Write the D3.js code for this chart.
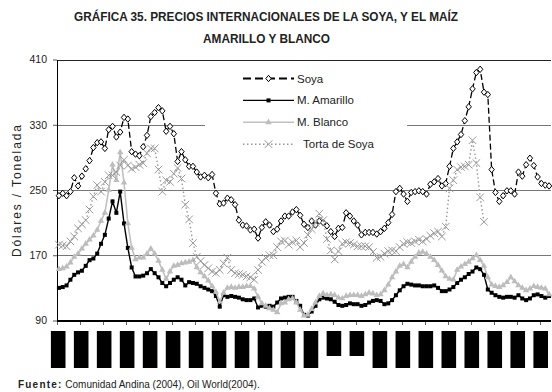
<!DOCTYPE html>
<html><head><meta charset="utf-8">
<script src="https://cdn.jsdelivr.net/npm/d3@7"></script>
<style>body{margin:0;background:#fff}</style>
</head><body>
<svg id="chart" width="552" height="392"></svg>
<script>
// Monthly prices, US$ per tonne
const soya = [
  243,246,243,248,265,255,267,276,286,302,
  308,309,301,324,328,315,321,339,337,297,
  294,292,303,317,340,345,351,347,322,328,
  319,285,297,287,279,279,272,266,268,265,
  269,246,233,234,240,238,232,213,207,206,
  201,202,191,204,211,207,199,202,212,218,
  218,223,226,219,208,204,212,207,212,210,
  206,199,193,203,204,222,218,212,207,195,
  198,198,198,196,199,203,210,220,248,252,
  245,236,247,248,249,248,245,257,260,264,
  255,258,279,301,309,318,335,352,374,394,
  398,370,367,275,247,236,243,249,249,245,
  272,267,281,289,280,266,258,256,255];
const amarillo = [
  130,131,133,140,146,149,151,157,164,166,
  172,184,195,215,236,222,248,209,179,155,
  144,144,145,148,153,148,143,136,132,136,
  140,143,140,133,137,136,135,132,130,128,
  126,120,107,121,119,120,119,118,116,115,
  115,117,106,108,107,108,107,112,117,118,
  119,119,114,108,97,96,101,108,116,118,
  117,116,113,109,108,109,111,110,110,108,
  109,112,114,115,114,110,111,115,121,127,
  132,135,134,133,133,132,132,132,133,130,
  126,126,128,131,136,140,143,147,150,155,
  153,146,128,124,121,119,118,119,119,118,
  121,117,115,117,121,122,120,118,120];
const blanco = [
  153,154,156,161,168,172,178,184,189,194,
  201,212,222,250,281,262,296,259,209,179,
  165,167,167,172,178,172,163,152,141,150,
  157,158,160,161,162,164,155,149,144,139,
  132,125,113,124,130,131,130,131,131,132,
  132,129,119,111,108,105,103,100,111,112,
  116,117,112,103,96,97,104,112,120,123,
  121,122,121,118,117,120,121,121,121,120,
  122,124,123,121,122,127,134,143,150,157,
  159,155,162,168,173,174,172,168,164,158,
  151,144,141,140,152,156,159,162,166,170,
  164,157,143,134,132,131,133,137,143,138,
  133,130,127,129,132,131,130,129,122];
const torta = [
  183,182,181,187,193,203,208,213,226,242,
  256,248,260,268,268,272,280,287,280,276,
  278,281,283,295,301,301,275,248,262,260,
  270,277,264,232,214,185,168,163,158,154,
  150,148,152,160,167,152,148,147,146,144,
  143,140,152,162,167,170,170,180,187,188,
  183,186,188,180,185,195,202,210,221,213,
  190,176,165,175,184,186,185,183,181,181,
  181,180,174,167,168,172,175,176,175,180,
  184,186,185,187,189,187,190,194,197,199,
  193,205,252,262,275,278,279,281,311,283,
  241,211];

const yTicks = [90, 170, 250, 330, 410];
const seriesNames = ["Soya", "M. Amarillo", "M. Blanco", "Torta de Soya"];
const titleLines = ["GRÁFICA 35. PRECIOS INTERNACIONALES DE LA SOYA, Y EL MAÍZ", "AMARILLO Y BLANCO"];
const yLabel = "Dólares / Tonelada";
const sourceBold = "Fuente:";
const sourceText = " Comunidad Andina (2004), Oil World(2004).";
const labelStep = 6;          // one period label every six months
const shortLabels = [12, 13]; // labels drawn with a shorter box

const svg = d3.select("#chart");
const nMonths = soya.length;
const plotL = 57, plotR = 551, plotT = 59.5, plotB = 320.5;
const x = d3.scaleLinear().domain([0, nMonths]).range([plotL, plotR]);
const y = d3.scaleLinear().domain([90, 410]).range([plotB, plotT]);
const cx = i => x(i + 0.5);

// title
const title = svg.append("g")
  .attr("font-family", "'Liberation Sans Narrow','Arial Narrow','Liberation Sans',Arial,sans-serif")
  .attr("font-weight", "bold").attr("font-size", 12.5).attr("fill", "#222")
  .attr("text-anchor", "middle");
title.append("text").attr("x", 266).attr("y", 21).text(titleLines[0])
  .attr("textLength", 384).attr("lengthAdjust", "spacingAndGlyphs");
title.append("text").attr("x", 266.5).attr("y", 43).text(titleLines[1])
  .attr("textLength", 127).attr("lengthAdjust", "spacingAndGlyphs");

// gridlines
svg.append("g").selectAll("line").data(yTicks.slice(1)).join("line")
  .attr("x1", plotL).attr("x2", plotR)
  .attr("y1", d => Math.round(y(d)) + 0.5).attr("y2", d => Math.round(y(d)) + 0.5)
  .attr("stroke", d => d === 410 ? "#222" : "#777").attr("stroke-width", 1);

// y axis
const yAxis = svg.append("g").attr("transform", `translate(${plotL},0)`)
  .call(d3.axisLeft(y).tickValues(yTicks).tickSizeInner(4).tickSizeOuter(0).tickPadding(6));
yAxis.select(".domain").attr("stroke", "#000");
yAxis.selectAll(".tick line").attr("stroke", "#555");
yAxis.selectAll("text").attr("font-family", "'Liberation Sans',Arial,sans-serif")
  .attr("font-size", 10.5).attr("fill", "#222");

svg.append("text")
  .attr("transform", "translate(21,191) rotate(-90)")
  .attr("text-anchor", "middle")
  .attr("font-family", "'Liberation Sans',Arial,sans-serif").attr("font-size", 12).attr("fill", "#222")
  .attr("textLength", 132).attr("lengthAdjust", "spacing")
  .text(yLabel);

// series
const seriesDefs = [
  {name: seriesNames[0], data: soya, stroke: "#000", width: 1.3, dash: "6,3"},
  {name: seriesNames[1], data: amarillo, stroke: "#000", width: 1.4, dash: null},
  {name: seriesNames[2], data: blanco, stroke: "#c0c0c0", width: 1.6, dash: null},
  {name: seriesNames[3], data: torta, stroke: "#999", width: 1.4, dash: "1.5,2.5"}
];

const line = d3.line().x((d, i) => cx(i)).y(d => y(d));

function marker(sel, k) {
  if (k === 0) {
    sel.append("path").attr("d", "M0,-3.2L2.7,0L0,3.2L-2.7,0Z")
      .attr("fill", "#fff").attr("stroke", "#000").attr("stroke-width", 1);
  } else if (k === 1) {
    sel.append("rect").attr("x", -2).attr("y", -2).attr("width", 4).attr("height", 4).attr("fill", "#000");
  } else if (k === 2) {
    sel.append("path").attr("d", d3.symbol(d3.symbolTriangle, 18)()).attr("fill", "#bdbdbd");
  } else {
    sel.append("path").attr("d", "M-3.8,-3.8L3.8,3.8M-3.8,3.8L3.8,-3.8")
      .attr("stroke", "#999").attr("stroke-width", 1).attr("fill", "none");
  }
}

seriesDefs.forEach((s, k) => {
  const g = svg.append("g");
  g.append("path").datum(s.data).attr("d", line)
    .attr("fill", "none").attr("stroke", s.stroke).attr("stroke-width", s.width)
    .attr("stroke-dasharray", s.dash);
  g.selectAll("g").data(s.data).join("g")
    .attr("transform", (d, i) => `translate(${cx(i)},${y(d)})`)
    .each(function () { marker(d3.select(this), k); });
});

// x axis
svg.append("line").attr("x1", plotL).attr("x2", plotR).attr("y1", plotB + 0.5).attr("y2", plotB + 0.5)
  .attr("stroke", "#000").attr("stroke-width", 2);
const tickIdx = d3.range(0, nMonths - 1, labelStep);
svg.append("g").selectAll("line").data(tickIdx).join("line")
  .attr("x1", d => Math.round(x(d)) + 0.5).attr("x2", d => Math.round(x(d)) + 0.5)
  .attr("y1", plotB + 1.5).attr("y2", plotB + 4.5).attr("stroke", "#666");
// period labels (masked boxes)
svg.append("g").selectAll("rect").data(tickIdx).join("rect")
  .attr("x", d => x(d) + 1.2 - 7.3).attr("width", 14.6)
  .attr("y", 331).attr("height", (d, i) => shortLabels.includes(i) ? 25 : 37)
  .attr("fill", "#000");

// legend
const lg = svg.append("g");
lg.append("rect").attr("x", 205).attr("y", 63).attr("width", 202).attr("height", 95).attr("fill", "#fff");
seriesDefs.forEach((s, k) => {
  const yy = 78.5 + k * 21.9;
  lg.append("line").attr("x1", 243).attr("x2", 294).attr("y1", yy).attr("y2", yy)
    .attr("stroke", s.stroke).attr("stroke-width", k === 0 ? 2 : s.width)
    .attr("stroke-dasharray", k === 0 ? "8,4" : s.dash);
  marker(lg.append("g").attr("transform", `translate(268.5,${yy})`), k);
  lg.append("text").attr("x", k === 3 ? 303 : 297).attr("y", yy + 4)
    .attr("font-family", "'Liberation Sans',Arial,sans-serif").attr("font-size", 11.5).attr("fill", "#222")
    .text(s.name);
});

// source
const src = svg.append("text").attr("x", 18).attr("y", 388)
  .attr("font-family", "'Liberation Sans',Arial,sans-serif").attr("font-size", 10).attr("fill", "#222");
src.append("tspan").attr("font-weight", "bold").attr("letter-spacing", 1.2).text(sourceBold);
src.append("tspan").text(sourceText);
</script>
</body></html>
